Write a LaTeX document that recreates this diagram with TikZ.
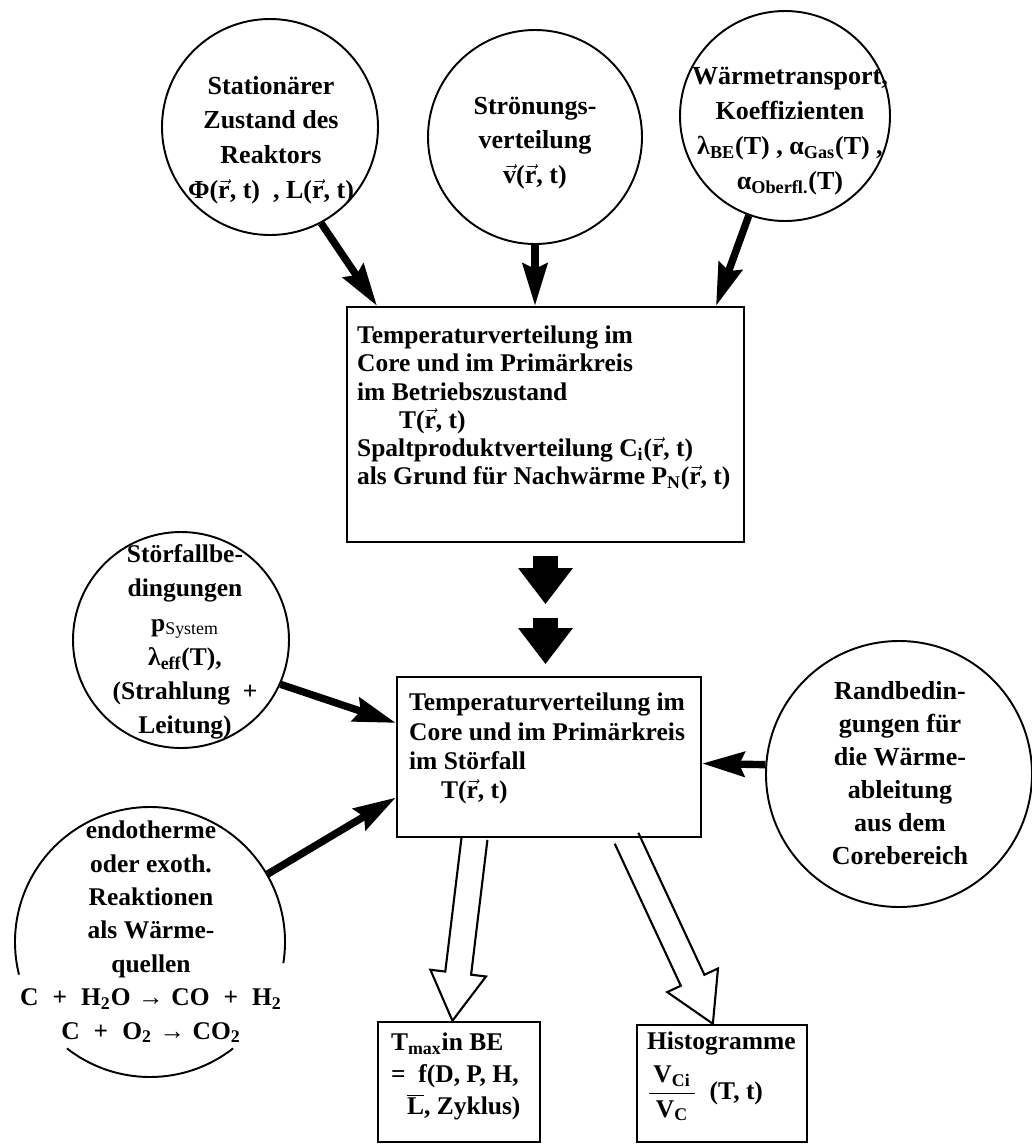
\documentclass[tikz,border=0pt]{standalone}
\usepackage{fontspec}
\setmainfont{Liberation Serif}
\usetikzlibrary{positioning, calc, arrows.meta}

\newcommand{\rvec}{\ensuremath{\vec{\mbox{r}}}}
\newcommand{\vvec}{\ensuremath{\vec{\mbox{v}}}}
% open block arrow from #1 to #2
\newcommand{\hollowarrow}[2]{%
  \draw[hollow] let \p1=($(#2)-(#1)$), \n1={atan2(\y1,\x1)} in
    ($(#1)+({\n1+90}:0.26cm)$) -- ($(#2)+({\n1+180}:0.96cm)+({\n1+90}:0.26cm)$)
    -- ($(#2)+({\n1+180}:0.96cm)+({\n1+90}:0.56cm)$) -- (#2)
    -- ($(#2)+({\n1+180}:0.96cm)+({\n1-90}:0.56cm)$)
    -- ($(#2)+({\n1+180}:0.96cm)+({\n1-90}:0.26cm)$)
    -- ($(#1)+({\n1-90}:0.26cm)$);}

\begin{document}
\begin{tikzpicture}[
        font=\fontsize{14.8}{19.8}\selectfont\bfseries,
        ring/.style={circle, draw, line width=1.1pt, minimum size=#1, inner sep=0pt},
        ringtext/.style={align=center, inner sep=0pt},
        box/.style={rectangle, draw, line width=1.4pt, inner sep=0pt},
        boxtext/.style={align=left, inner sep=0pt, font=\fontsize{14.5}{16}\selectfont\bfseries},
        arrow/.style={-{Stealth[length=24pt, width=14pt, inset=3pt]}, line width=4.2pt},
        block/.style={-{Triangle[length=0.72cm, width=1.04cm]}, line width=0.5cm},
        hollow/.style={line width=1.2pt, line join=miter}
    ]
    \useasboundingbox (0,0) rectangle (20.64,-22.88);

    % inputs above
    \node (cA) [ring=4.32cm] at (5.40,-2.54) {};
    \node (tA) [ringtext] at (5.42,-2.80) {Stationärer\\Zustand des\\Reaktors\\Φ(\rvec, t)~~, L(\rvec, t)};
    \node (cB) [ring=4.28cm] at (10.70,-2.74) {};
    \node (tB) [ringtext] at (10.70,-2.86) {Strönungs-\\verteilung\\\vvec(\rvec, t)};
    \node (cC) [ring=4.2cm] at (15.70,-2.32) {};
    \node (tC) [ringtext] at (15.80,-2.62) {Wärmetransport,\\Koeffizienten\\λ\textsubscript{BE}(T)~, α\textsubscript{Gas}(T)~,\\α\textsubscript{Oberfl.}(T)};

    \node (box1) [box, minimum width=7.94cm, minimum height=4.70cm] at (10.91,-8.49) {};
    \node (t1) [boxtext, below right=0.40cm and 0.22cm of box1.north west] {Temperaturverteilung im\\Core und im Primärkreis\\im Betriebszustand\\\hspace*{0.84cm}T(\rvec, t)\\Spaltproduktverteilung C\textsubscript{i}(\rvec, t)\\als Grund für Nachwärme P\textsubscript{N}(\rvec, t)};

    \draw [arrow] (cA.-62) -- ($(box1.north west)!0.078!(box1.north east)$);
    \draw [arrow] (cB.south) -- (cB.south |- box1.north);
    \draw [arrow] (cC.250) -- ($(box1.north west)!0.927!(box1.north east)$);

    % accident case
    \node (box2) [box, minimum width=6.08cm, minimum height=3.20cm] at (10.98,-15.14) {};
    \node (t2) [boxtext, font=\fontsize{14.5}{16.7}\selectfont\bfseries, below right=0.34cm and 0.26cm of box2.north west] {Temperaturverteilung im\\Core und im Primärkreis\\im Störfall\\\hspace*{0.64cm}T(\rvec, t)};

    \coordinate (b1s) at ($(box1.south)+(0,-0.26)$);
    \coordinate (b1e) at ($(box1.south)+(0,-1.22)$);
    \coordinate (b2s) at ($(box1.south)+(0,-1.50)$);
    \coordinate (b2e) at ($(box1.south)+(0,-2.42)$);
    \draw [block] (b1s) -- (b1e);
    \draw [block] (b2s) -- (b2e);

    \node (cD) [ring=4.32cm] at (3.62,-12.80) {};
    \node (tD) [ringtext, font=\fontsize{14.5}{19.5}\selectfont\bfseries] at (3.70,-12.84) {Störfallbe-\\dingungen\\p\textsubscript{\mdseries System}\\λ\textsubscript{eff}(T),\\(Strahlung~~+\\Leitung)};

    \node (cE) [circle, minimum size=5.4cm, inner sep=0pt, outer sep=0pt] at (3.00,-18.84) {};
    \draw [line width=1.1pt] (cE.-9) arc[start angle=-9, end angle=194, radius=2.7cm];
    \draw [line width=1.1pt] (cE.232) arc[start angle=232, end angle=308, radius=2.7cm];
    \node (tE) [ringtext, font=\fontsize{14.5}{19}\selectfont\bfseries] at (3.02,-18.64) {endotherme\\oder exoth.\\Reaktionen\\als Wärme-\\quellen\\C\hspace{0.55em}+\hspace{0.55em}H\textsubscript{2}O\hspace{0.3em}→\hspace{0.3em}CO\hspace{0.55em}+\hspace{0.55em}H\textsubscript{2}\\C\hspace{0.55em}+\hspace{0.55em}O\textsubscript{2}\hspace{0.3em}→\hspace{0.3em}CO\textsubscript{2}};

    \node (cF) [ring=5.32cm] at (17.98,-15.48) {};
    \node (tF) [ringtext, font=\fontsize{14.8}{18.7}\selectfont\bfseries] at (18.00,-15.46) {Randbedin-\\gungen für\\die Wärme-\\ableitung\\aus dem\\Corebereich};

    \draw [arrow] (cD.-24) -- ($(box2.north west)!0.29!(box2.south west)$);
    \draw [arrow] (cE.30) -- ($(box2.north west)!0.75!(box2.south west)$);
    \draw [arrow] (cF.176) -- ($(box2.north east)!0.54!(box2.south east)$);

    % results
    \node (tmax) [box, minimum width=3.24cm, minimum height=2.40cm] at (9.18,-21.64) {};
    \node (t3) [boxtext, font=\fontsize{14.5}{18}\selectfont\bfseries, below right=0.24cm and 0.28cm of tmax.north west] {T\textsubscript{max}in BE\\=~~f(D, P, H,\\\hspace*{0.32cm}$\overline{\mbox{L}}$, Zyklus)};
    \node (histo) [box, minimum width=3.40cm, minimum height=2.34cm] at (14.44,-21.67) {};
    \node (t4) [boxtext, below right=0.16cm and 0.22cm of histo.north west] {Histogramme\\[5pt]$\displaystyle\frac{\mbox{\,V\textsubscript{Ci}\,}}{\mbox{V\textsubscript{C}}}$~~(T, t)};

    \coordinate (g1s) at ($(box2.south west)!0.257!(box2.south east)$);
    \coordinate (g1e) at ($(tmax.north west)!0.46!(tmax.north east)$);
    \coordinate (g2s) at ($(box2.south west)!0.753!(box2.south east)$);
    \coordinate (g2e) at ($(histo.north west)!0.447!(histo.north east)$);
    \hollowarrow{g1s}{g1e}
    \hollowarrow{g2s}{g2e}

\end{tikzpicture}
\end{document}
